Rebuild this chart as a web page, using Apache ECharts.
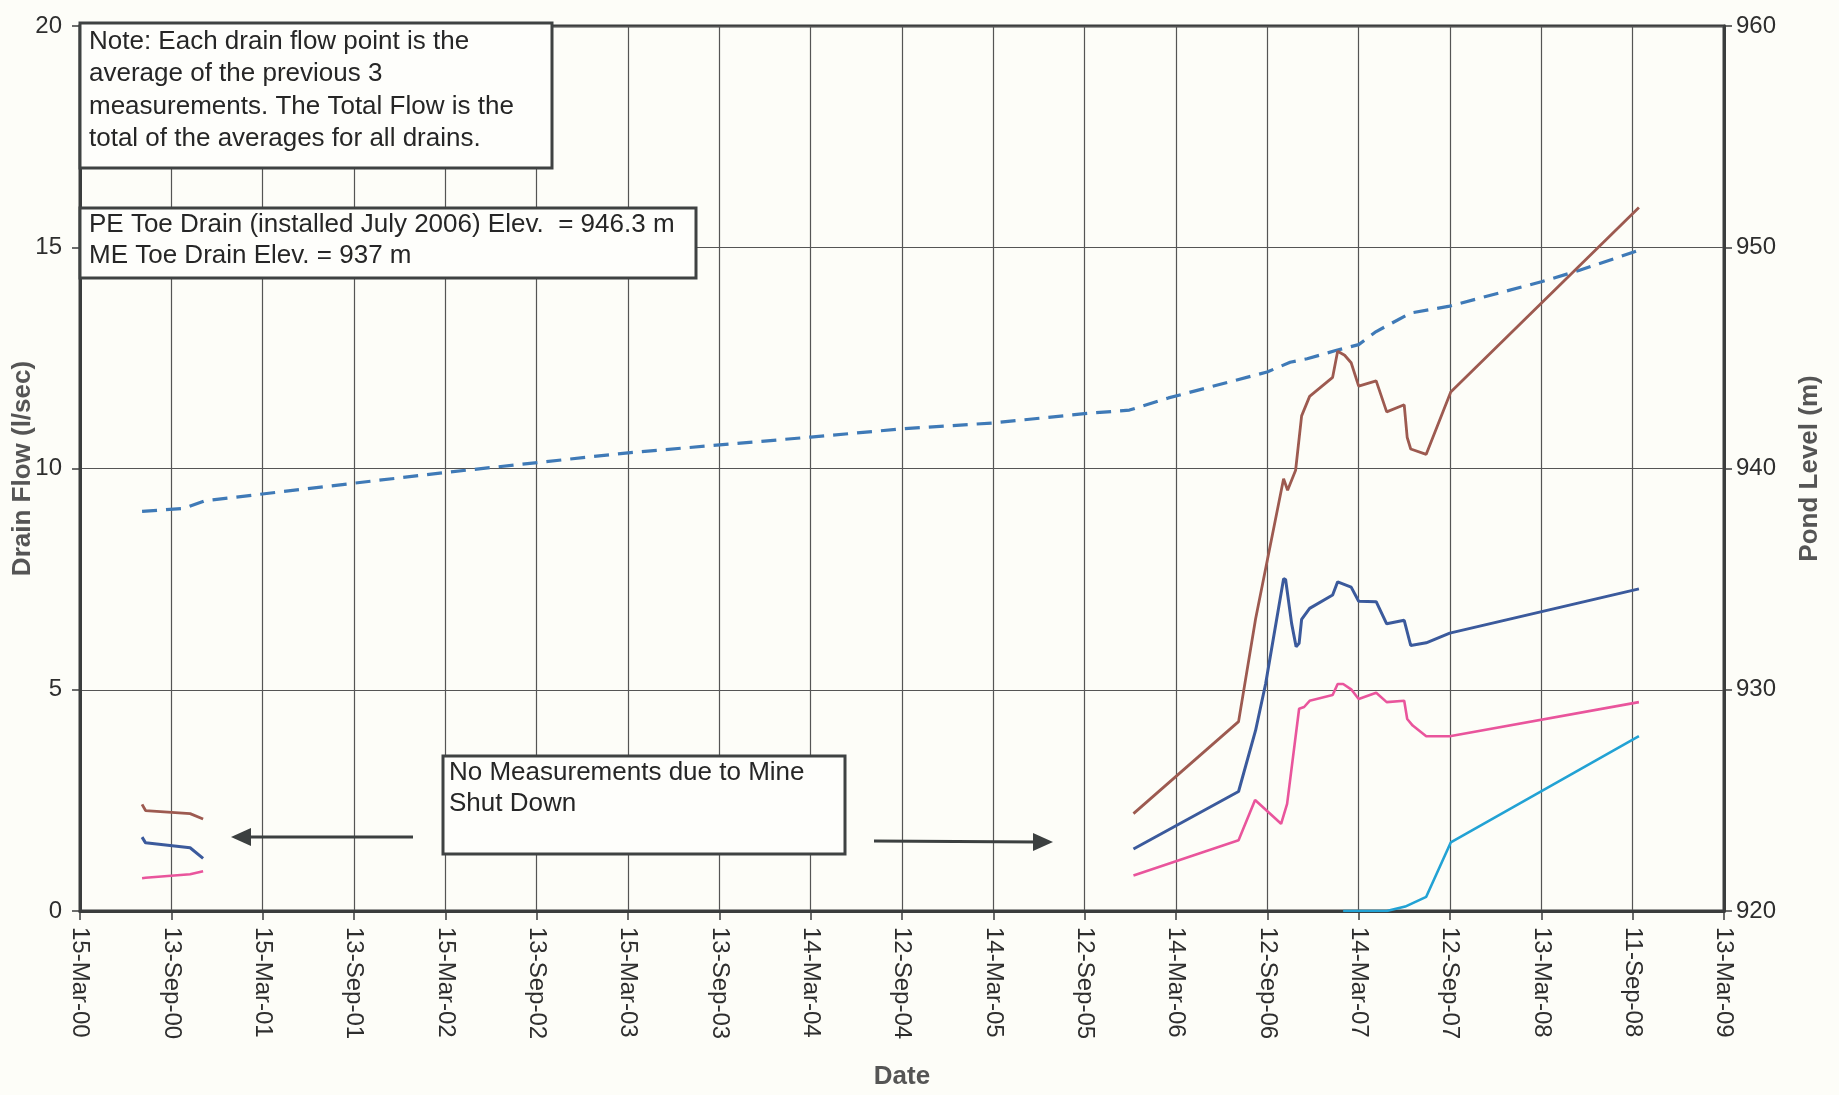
<!DOCTYPE html>
<html><head><meta charset="utf-8">
<script src="https://cdn.jsdelivr.net/npm/echarts@6/dist/echarts.min.js"></script>
<style>html,body{margin:0;padding:0;background:#fdfdf8}#c{width:1839px;height:1095px}</style>
</head><body><div id="c"></div><script>
// ---- tick labels (half-year steps of 182.5 days from 15-Mar-2000) ----
const xTickLabels = ['15-Mar-00','13-Sep-00','15-Mar-01','13-Sep-01','15-Mar-02','13-Sep-02','15-Mar-03','13-Sep-03','14-Mar-04','12-Sep-04','14-Mar-05','12-Sep-05','14-Mar-06','12-Sep-06','14-Mar-07','12-Sep-07','13-Mar-08','11-Sep-08','13-Mar-09'];

// ---- Total flow (brown), l/sec ; null date = gap (mine shut down) ----
const totalDates = ['2000-07-17','2000-07-24','2000-10-21','2000-11-16',null,
  '2005-12-19','2006-07-17','2006-08-20','2006-10-15','2006-10-23','2006-11-08','2006-11-20','2006-12-06',
  '2007-01-21','2007-01-31','2007-02-14','2007-02-27','2007-03-14','2007-04-18','2007-05-09','2007-06-13',
  '2007-06-19','2007-06-26','2007-07-27','2007-09-14','2008-09-24'];
const totalFlow = [2.41,2.27,2.20,2.08,null,
  2.2,4.28,6.6,9.77,9.51,9.96,11.19,11.63,
  12.06,12.65,12.56,12.39,11.86,11.98,11.28,11.44,
  10.7,10.44,10.32,11.73,15.9];

// ---- ME drain (dark blue) ----
const meDates = ['2000-07-17','2000-07-24','2000-10-21','2000-11-16',null,
  '2005-12-19','2006-07-17','2006-08-20','2006-09-09','2006-10-15','2006-10-19','2006-10-31','2006-11-09',
  '2006-11-15','2006-11-20','2006-12-06','2007-01-21','2007-01-31','2007-02-27','2007-03-14','2007-04-18',
  '2007-05-09','2007-06-13','2007-06-26','2007-07-27','2007-09-12','2008-09-24'];
const meFlow = [1.67,1.54,1.43,1.19,null,
  1.4,2.7,4.08,5.13,7.51,7.49,6.50,5.97,
  6.05,6.59,6.84,7.14,7.44,7.32,7.0,6.99,
  6.49,6.57,6.0,6.06,6.28,7.28];

// ---- other drain (pink) ----
const pinkDates = ['2000-07-17','2000-07-24','2000-10-21','2000-11-16',null,
  '2005-12-19','2006-07-17','2006-08-19','2006-10-10','2006-10-22','2006-11-15','2006-11-25','2006-12-06',
  '2007-01-21','2007-01-31','2007-02-11','2007-02-27','2007-03-14','2007-04-18','2007-05-09','2007-06-13',
  '2007-06-19','2007-06-30','2007-07-27','2007-09-12','2008-09-24'];
const pinkFlow = [0.74,0.75,0.83,0.90,null,
  0.8,1.6,2.51,1.97,2.42,4.57,4.61,4.75,
  4.88,5.13,5.13,5.01,4.79,4.93,4.72,4.75,
  4.34,4.19,3.95,3.95,4.72];

// ---- PE toe drain (cyan) ----
const peDates = ['2007-02-11','2007-05-09','2007-06-15','2007-07-27','2007-09-14','2008-09-24'];
const peFlow = [0.0,0.0,0.1,0.32,1.55,3.95];

// ---- Pond level (dashed), m ----
const pondDates = ['2000-07-17','2000-10-09','2000-11-19','2001-09-15','2002-03-15','2003-03-15','2004-03-14',
  '2004-09-12','2005-03-14','2005-09-12','2005-12-11','2006-02-27','2006-09-12','2006-10-28','2006-12-01',
  '2007-01-27','2007-03-14','2007-04-18','2007-06-26','2007-09-12','2008-03-13','2008-05-27','2008-09-24'];
const pondLevel = [938.06,938.2,938.54,939.34,939.82,940.71,941.42,
  941.79,942.06,942.48,942.64,943.19,944.36,944.8,944.96,
  945.33,945.6,946.19,947.03,947.34,948.44,948.95,949.86];

const BASE = Date.UTC(2000,2,15);
const STEP = 182.5;
function dayNum(s){const p=s.split('-');return (Date.UTC(+p[0],+p[1]-1,+p[2])-BASE)/86400000;}
function pairs(dates, vals){
  const out=[]; let prev=0;
  dates.forEach((d,i)=>{ if(d===null){ out.push([prev+1,null]); } else { prev=dayNum(d); out.push([prev, vals[i]]); } });
  return out;
}

const FONT = 'Liberation Sans, Arial, sans-serif';
const AX = '#3b3d3d';
const chart = echarts.init(document.getElementById('c'), null, {renderer:'canvas'});

function box(x,y,w,h,lines,tx,ty,lh){
  const els=[{type:'rect',shape:{x:x,y:y,width:w,height:h},style:{fill:'#fefefb',stroke:'#3f4242',lineWidth:3},z:10}];
  lines.forEach((t,i)=>els.push({type:'text',x:tx,y:ty+i*lh,style:{text:t,font:'26px '+FONT,fill:'#262626',textVerticalAlign:'middle'},z:11}));
  return els;
}

const graphics = [].concat(
  box(80,23,472,145,['Note: Each drain flow point is the','average of the previous 3','measurements. The Total Flow is the','total of the averages for all drains.'],89,42,32.3),
  box(80,208,616,70,['PE Toe Drain (installed July 2006) Elev.  = 946.3 m','ME Toe Drain Elev. = 937 m'],89,225,31),
  box(443,756,402,98,['No Measurements due to Mine','Shut Down'],449,773,31),
  [
    {type:'line',shape:{x1:413,y1:837,x2:245,y2:837},style:{stroke:'#3c4040',lineWidth:3},z:10},
    {type:'polygon',shape:{points:[[231,837],[251,828],[251,846]]},style:{fill:'#3c4040'},z:10},
    {type:'line',shape:{x1:874,y1:841,x2:1038,y2:842},style:{stroke:'#3c4040',lineWidth:3},z:10},
    {type:'polygon',shape:{points:[[1053,842],[1033,833],[1033,851]]},style:{fill:'#3c4040'},z:10}
  ]
);

const axisLabelBase = {fontSize:24, color:'#2e2e2e', fontFamily:FONT};
const nameStyle = {fontSize:26,fontWeight:'bold',color:'#555',fontFamily:FONT};

chart.setOption({
  backgroundColor:'#fdfdf8',
  animation:false,
  grid:{left:80,right:115,top:26,bottom:184,containLabel:false,outerBoundsMode:'none',
    show:true,borderColor:AX,borderWidth:3,backgroundColor:'transparent'},
  xAxis:{type:'value',min:0,max:STEP*18,interval:STEP,
    name:'Date',nameLocation:'middle',nameGap:153,nameMoveOverlap:false,
    nameTextStyle:nameStyle,
    axisLine:{lineStyle:{color:AX,width:3}},
    axisTick:{show:true,length:9,lineStyle:{color:AX,width:1.5}},
    splitLine:{show:true,lineStyle:{color:'#555',width:1.2}},
    axisLabel:Object.assign({rotate:-90,margin:16,formatter:v=>xTickLabels[Math.round(v/STEP)]||''},axisLabelBase)
  },
  yAxis:[
    {type:'value',min:0,max:20,interval:5,position:'left',
      name:'Drain Flow (l/sec)',nameLocation:'middle',nameGap:44,nameRotate:90,nameMoveOverlap:false,
      nameTextStyle:nameStyle,
      axisLine:{show:true,lineStyle:{color:AX,width:3}},
      axisTick:{show:true,length:8,lineStyle:{color:AX,width:1.5}},
      splitLine:{show:true,lineStyle:{color:'#555',width:1.2}},
      axisLabel:Object.assign({margin:18},axisLabelBase)},
    {type:'value',min:920,max:960,interval:10,position:'right',
      name:'Pond Level (m)',nameLocation:'middle',nameGap:73,nameRotate:90,nameMoveOverlap:false,
      nameTextStyle:nameStyle,
      axisLine:{show:true,lineStyle:{color:AX,width:3}},
      axisTick:{show:true,length:8,lineStyle:{color:AX,width:1.5}},
      splitLine:{show:false},
      axisLabel:Object.assign({margin:12},axisLabelBase)}
  ],
  series:[
    {name:'Pond Level',type:'line',yAxisIndex:1,data:pairs(pondDates,pondLevel),symbol:'none',
      lineStyle:{color:'#3f7ab7',width:3.2,type:[15,9]},z:3},
    {name:'Total Flow',type:'line',data:pairs(totalDates,totalFlow),symbol:'none',
      lineStyle:{color:'#9d5a50',width:2.8},z:4},
    {name:'ME Toe Drain',type:'line',data:pairs(meDates,meFlow),symbol:'none',
      lineStyle:{color:'#3b5a9c',width:3},z:5},
    {name:'Drain',type:'line',data:pairs(pinkDates,pinkFlow),symbol:'none',
      lineStyle:{color:'#e9559c',width:2.6},z:5},
    {name:'PE Toe Drain',type:'line',data:pairs(peDates,peFlow),symbol:'none',
      lineStyle:{color:'#22a2d4',width:2.6},z:5}
  ],
  graphic:graphics
});
</script></body></html>
